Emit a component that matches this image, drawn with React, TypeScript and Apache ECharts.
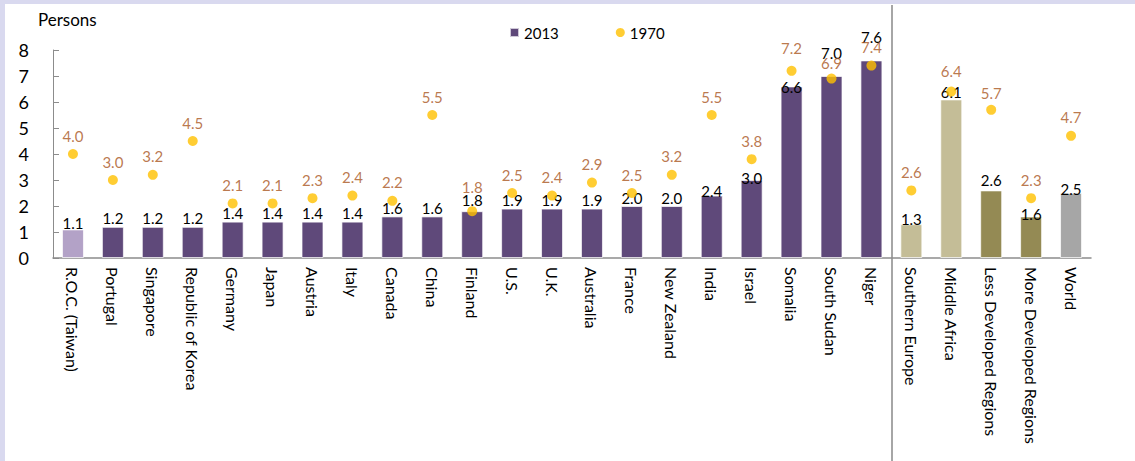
import React, { useEffect, useRef } from "react";
import * as echarts from "echarts";

const categories = [
  "R.O.C. (Taiwan)", "Portugal", "Singapore", "Republic of Korea", "Germany", "Japan",
  "Austria", "Italy", "Canada", "China", "Finland", "U.S.", "U.K.", "Australia", "France",
  "New Zealand", "India", "Israel", "Somalia", "South Sudan", "Niger",
  "Southern Europe", "Middle Africa", "Less Developed Regions", "More Developed Regions", "World",
];
const values2013 = [
  1.1, 1.2, 1.2, 1.2, 1.4, 1.4, 1.4, 1.4, 1.6, 1.6, 1.8, 1.9, 1.9, 1.9, 2.0, 2.0, 2.4, 3.0,
  6.6, 7.0, 7.6, 1.3, 6.1, 2.6, 1.6, 2.5,
];
const values1970 = [
  4.0, 3.0, 3.2, 4.5, 2.1, 2.1, 2.3, 2.4, 2.2, 5.5, 1.8, 2.5, 2.4, 2.9, 2.5, 3.2, 5.5, 3.8,
  7.2, 6.9, 7.4, 2.6, 6.4, 5.7, 2.3, 4.7,
];
const yTicks = [0, 1, 2, 3, 4, 5, 6, 7, 8];

// styling (not data): bar colours and label nudges per category
const barColors = [
  "#B3A2C7",
  ...Array(20).fill("#5F497A"),
  "#C4BD97", "#C4BD97", "#948A54", "#948A54", "#A6A6A6",
];
const shift2013: Record<string, number> = {
  "R.O.C. (Taiwan)": 2,
  India: 4,
  Israel: 6,
  Somalia: 9,
  "South Sudan": -15,
  Niger: -15,
  "Middle Africa": 1,
  "Southern Europe": 3,
  "Less Developed Regions": -2,
  "More Developed Regions": 6,
  World: 4,
  Finland: -3,
};
const shift1970: Record<string, number> = {
  Finland: -6,
  Somalia: -4,
  "South Sudan": 3,
  "Middle Africa": -2,
  "Less Developed Regions": 2,
};

const FONT = "Lato";

export default function App() {
  const ref = useRef<HTMLDivElement>(null);
  useEffect(() => {
    if (!ref.current) return;
    const chart = echarts.init(ref.current, undefined, { renderer: "svg" });
    chart.setOption({
      animation: false,
      backgroundColor: "#ffffff",
      textStyle: { fontFamily: FONT },
      legend: {
        left: 504,
        top: 20,
        itemWidth: 9,
        itemHeight: 9,
        itemGap: 57,
        textStyle: { fontFamily: FONT, fontSize: 15, color: "#000" },
        data: [
          { name: "2013", icon: "rect" },
          { name: "1970", icon: "circle" },
        ],
      },
      grid: { left: 53, right: 44, top: 50, bottom: 203, containLabel: false },
      xAxis: {
        type: "category",
        data: categories,
        axisLine: { show: true, lineStyle: { color: "#8C8C8C", width: 1.5 } },
        axisTick: { show: false },
        axisLabel: {
          interval: 0,
          rotate: -90,
          margin: 9,
          fontFamily: FONT,
          fontSize: 16,
          color: "#000",
        },
      },
      yAxis: {
        type: "value",
        min: yTicks[0],
        max: yTicks[yTicks.length - 1],
        interval: 1,
        splitLine: { show: false },
        axisLine: { show: true, lineStyle: { color: "#8C8C8C", width: 1 } },
        axisTick: { show: true, inside: true, length: 6, lineStyle: { color: "#8C8C8C" } },
        axisLabel: { margin: 24, fontFamily: FONT, fontSize: 18, color: "#000" },
      },
      series: [
        {
          name: "2013",
          type: "bar",
          barWidth: 22,
          itemStyle: { color: "#5F497A", borderColor: "rgba(255,255,255,0.7)", borderWidth: 1 },
          data: values2013.map((v, i) => ({
            value: v,
            itemStyle: { color: barColors[i] },
            label: { offset: [0, shift2013[categories[i]] || 0] },
          })),
          label: {
            show: true,
            position: "top",
            distance: 1,
            fontFamily: FONT,
            fontSize: 15,
            color: "#000",
            formatter: (p: any) => Number(p.value).toFixed(1),
          },
          z: 2,
        },
        {
          name: "1970",
          type: "scatter",
          symbol: "circle",
          symbolSize: 10,
          itemStyle: { color: "#FFC000" },
          data: values1970.map((v, i) => ({
            value: v,
            label: { offset: [0, shift1970[categories[i]] || 0] },
          })),
          label: {
            show: true,
            position: "top",
            distance: 6,
            fontFamily: FONT,
            fontSize: 15,
            color: "#A9561E",
            formatter: (p: any) => Number(p.value).toFixed(1),
          },
          z: 3,
        },
      ],
      graphic: [
        { type: "rect", shape: { x: 0, y: 0, width: 1135, height: 4 }, style: { fill: "#D9D9EF" }, silent: true },
        { type: "rect", shape: { x: 0, y: 0, width: 5, height: 461 }, style: { fill: "#D9D9EF" }, silent: true },
        {
          type: "line",
          shape: { x1: 892, y1: 5, x2: 892, y2: 461 },
          style: { stroke: "#A6A6A6", lineWidth: 2 },
          silent: true,
        },
        {
          type: "text",
          x: 38,
          y: 19,
          style: { text: "Persons", fontFamily: FONT, fontSize: 17, fill: "#000", verticalAlign: "middle" },
        },
      ],
    });
    return () => chart.dispose();
  }, []);
  return (
    <div
      ref={ref}
      style={{ position: "fixed", left: 0, top: 0, width: 1135, height: 461 }}
    />
  );
}
